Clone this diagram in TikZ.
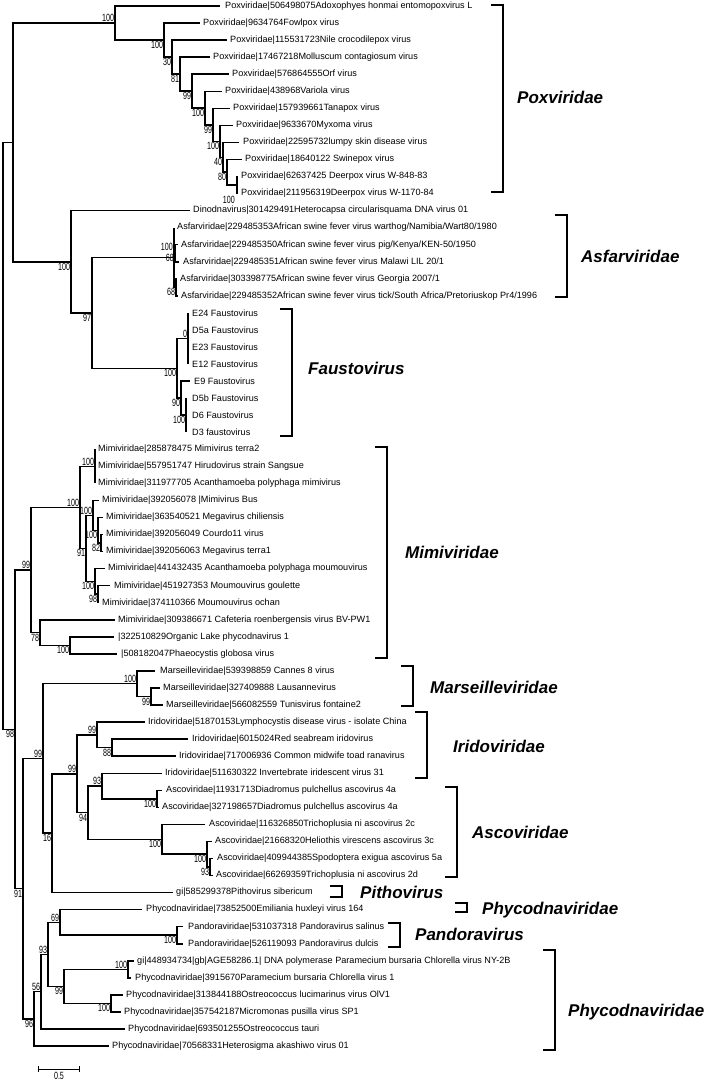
\documentclass[tikz,border=0pt]{standalone}
\usepackage{fontspec}
\setmainfont{Liberation Sans}
\newfontfamily\bsfont[FakeStretch=0.68]{Liberation Sans}
\usetikzlibrary{calc}
\tikzset{
  tree/.style={line width=1.5pt},
  brk/.style={line width=1.5pt},
  leaflab/.style={anchor=west, inner sep=0pt, font=\fontsize{9.1}{10}\selectfont},
  bs/.style={inner sep=0pt, font=\bsfont\fontsize{10.5}{10.5}\selectfont},
  clab/.style={anchor=west, inner sep=0pt, font=\fontsize{17}{18}\selectfont\bfseries\itshape},
}
\newcommand\leaf[5]{\coordinate (#1) at (#3,{6+17.05*(#2-1)});
  \node[leaflab] (#1t) at (#4,{6+17.05*(#2-1)}) {#5};}
\newcommand\inode[4]{\path let \p1=($(#3)!.5!(#4)$) in (#2pt,\y1) coordinate (#1);}
\newcommand\kids[2]{\foreach \c in {#2} {\draw[tree] (#1) |- (\c);}}
\newcommand\bb[2]{\node[bs,anchor=north east] (b#1) at ($(#1)+(-0.8,1)$) {#2};}
\newcommand\ba[2]{\node[bs,anchor=south east] (b#1) at ($(#1)+(-0.8,-1)$) {#2};}
\newcommand\brk[4]{\coordinate (#1t) at (#2-12,#3); \coordinate (#1b) at (#2-12,#4);
  \draw[brk] (#1t) -- ++(12,0) |- (#1b);}
\begin{document}
\begin{tikzpicture}[x=1pt,y=-1pt]
\useasboundingbox (0,0) rectangle (720,1082);
% ---------------- Poxviridae
\leaf{L1}{1}{220}{225}{Poxviridae|506498075Adoxophyes honmai entomopoxvirus L}
\leaf{L2}{2}{200}{203}{Poxviridae|9634764Fowlpox virus}
\leaf{L3}{3}{227}{230}{Poxviridae|115531723Nile crocodilepox virus}
\leaf{L4}{4}{210}{213}{Poxviridae|17467218Molluscum contagiosum virus}
\leaf{L5}{5}{229}{232}{Poxviridae|576864555Orf virus}
\leaf{L6}{6}{222}{225}{Poxviridae|438968Variola virus}
\leaf{L7}{7}{230}{233}{Poxviridae|157939661Tanapox virus}
\leaf{L8}{8}{233}{236}{Poxviridae|9633670Myxoma virus}
\leaf{L9}{9}{239}{243}{Poxviridae|22595732lumpy skin disease virus}
\leaf{L10}{10}{242}{245}{Poxviridae|18640122 Swinepox virus}
\leaf{L11}{11}{238}{241}{Poxviridae|62637425 Deerpox virus W-848-83}
\leaf{L12}{12}{238}{241}{Poxviridae|211956319Deerpox virus W-1170-84}
\inode{nK}{237}{L11}{L12}
\inode{nJ}{227}{L10}{nK}
\inode{nI}{223}{L9}{nJ}
\inode{nH}{220}{L8}{nI}
\inode{nG}{213}{L7}{nH}
\inode{nF}{205}{L6}{nG}
\inode{nE}{192}{L5}{nF}
\inode{nD}{180}{L4}{nE}
\inode{nC}{172}{L3}{nD}
\inode{nB}{164}{L2}{nC}
\inode{nA}{115}{L1}{nB}
\kids{nK}{L11,L12}\kids{nJ}{L10,nK}\kids{nI}{L9,nJ}\kids{nH}{L8,nI}
\kids{nG}{L7,nH}\kids{nF}{L6,nG}\kids{nE}{L5,nF}\kids{nD}{L4,nE}
\kids{nC}{L3,nD}\kids{nB}{L2,nC}\kids{nA}{L1,nB}
\ba{nA}{100}\bb{nB}{100}\bb{nC}{30}\bb{nD}{81}\bb{nE}{99}\bb{nF}{100}
\bb{nG}{99}\bb{nH}{100}\bb{nI}{40}\bb{nJ}{80}
\node[bs,anchor=north east] (bnK) at ($(nK)+(-2,11)$) {100};
% ---------------- Dinodnavirus / Asfarviridae / Faustovirus
\leaf{L13}{13}{190}{193}{Dinodnavirus|301429491Heterocapsa circularisquama DNA virus 01}
\leaf{L14}{14}{174}{177}{Asfarviridae|229485353African swine fever virus warthog/Namibia/Wart80/1980}
\leaf{L15}{15}{178}{181}{Asfarviridae|229485350African swine fever virus pig/Kenya/KEN-50/1950}
\leaf{L16}{16}{179}{183}{Asfarviridae|229485351African swine fever virus Malawi LIL 20/1}
\leaf{L17}{17}{177}{180}{Asfarviridae|303398775African swine fever virus Georgia 2007/1}
\leaf{L18}{18}{178}{181}{Asfarviridae|229485352African swine fever virus tick/South Africa/Pretoriuskop Pr4/1996}
\inode{nAx}{175.5}{L15}{L16}
\inode{nA3}{176}{L17}{L18}
\inode{nASF}{174}{L14}{nA3}
\kids{nAx}{L15,L16}\kids{nA3}{L17,L18}\kids{nASF}{L14,nAx,nA3}
\leaf{L19}{19}{188}{192}{E24 Faustovirus}
\leaf{L20}{20}{188}{192}{D5a Faustovirus}
\leaf{L21}{21}{188}{192}{E23 Faustovirus}
\leaf{L22}{22}{188}{192}{E12 Faustovirus}
\leaf{L23}{23}{190}{194}{E9 Faustovirus}
\leaf{L24}{24}{186}{192}{D5b Faustovirus}
\leaf{L25}{25}{186}{192}{D6 Faustovirus}
\leaf{L26}{26}{186}{192}{D3 faustovirus}
\inode{nF1}{188}{L19}{L22}
\inode{nF3}{186}{L24}{L26}
\inode{nF2}{181}{L23}{nF3}
\inode{nFAU}{177}{nF1}{nF2}
\inode{nAF}{92}{nASF}{nFAU}
\inode{nDAF}{71}{L13}{nAF}
\inode{nX}{13}{nA}{nDAF}
\kids{nF1}{L19,L20,L21,L22}\kids{nF3}{L24,L25,L26}\kids{nF2}{L23,nF3}
\kids{nFAU}{nF1,nF2}\kids{nAF}{nASF,nFAU}\kids{nDAF}{L13,nAF}\kids{nX}{nA,nDAF}
\node[bs,anchor=south east] (bnASF) at (173,251) {100};
\node[bs,anchor=north east] (bnAx) at (174,254) {68};
\bb{nA3}{68}
\ba{nF1}{0}\bb{nF2}{90}\bb{nF3}{100}\bb{nFAU}{100}\bb{nAF}{97}\bb{nDAF}{100}
% ---------------- Mimiviridae
\leaf{L27}{27}{95}{98}{Mimiviridae|285878475 Mimivirus terra2}
\leaf{L28}{28}{95}{98}{Mimiviridae|557951747 Hirudovirus strain Sangsue}
\leaf{L29}{29}{95}{98}{Mimiviridae|311977705 Acanthamoeba polyphaga mimivirus}
\leaf{L30}{30}{99}{102}{Mimiviridae|392056078 |Mimivirus Bus}
\leaf{L31}{31}{103}{106}{Mimiviridae|363540521 Megavirus chiliensis}
\leaf{L32}{32}{103}{106}{Mimiviridae|392056049 Courdo11 virus}
\leaf{L33}{33}{103}{106}{Mimiviridae|392056063 Megavirus terra1}
\leaf{L34}{34}{105}{108}{Mimiviridae|441432435 Acanthamoeba polyphaga moumouvirus}
\leaf{L35}{35}{110}{114}{Mimiviridae|451927353 Moumouvirus goulette}
\leaf{L36}{36}{98}{102}{Mimiviridae|374110366 Moumouvirus ochan}
\leaf{L37}{37}{115}{118}{Mimiviridae|309386671 Cafeteria roenbergensis virus BV-PW1}
\leaf{L38}{38}{114}{118}{|322510829Organic Lake phycodnavirus 1}
\leaf{L39}{39}{117}{121}{|508182047Phaeocystis globosa virus}
\inode{nM4}{95}{L27}{L29}
\inode{nM9}{101}{L32}{L33}
\inode{nM8}{98}{L31}{nM9}
\inode{nM6}{93}{L30}{nM8}
\inode{nM10}{98}{L35}{L36}
\inode{nM7}{95}{L34}{nM10}
\inode{nM5}{86}{nM6}{nM7}
\inode{nM2}{80}{nM4}{nM5}
\inode{nM3b}{70}{L38}{L39}
\inode{nM3}{40}{L37}{nM3b}
\inode{nM1}{31}{nM2}{nM3}
\kids{nM4}{L27,L28,L29}\kids{nM9}{L32,L33}\kids{nM8}{L31,nM9}\kids{nM6}{L30,nM8}
\kids{nM10}{L35,L36}\kids{nM7}{L34,nM10}\kids{nM5}{nM6,nM7}\kids{nM2}{nM4,nM5}
\kids{nM3b}{L38,L39}\kids{nM3}{L37,nM3b}\kids{nM1}{nM2,nM3}
\ba{nM4}{100}\ba{nM2}{100}\ba{nM6}{100}\bb{nM8}{100}\bb{nM9}{82}\bb{nM5}{91}
\bb{nM7}{100}\bb{nM10}{98}\bb{nM3b}{100}\bb{nM3}{78}\ba{nM1}{99}
% ---------------- Marseilleviridae
\leaf{L40}{40}{155}{160}{Marseilleviridae|539398859 Cannes 8 virus}
\leaf{L41}{41}{160}{163}{Marseilleviridae|327409888 Lausannevirus}
\leaf{L42}{42}{163}{166}{Marseilleviridae|566082559 Tunisvirus fontaine2}
\inode{nMN}{151}{L41}{L42}
\inode{nMAR}{137}{L40}{nMN}
\kids{nMN}{L41,L42}\kids{nMAR}{L40,nMN}
\ba{nMAR}{100}\bb{nMN}{99}
% ---------------- Iridoviridae / Ascoviridae / Pithovirus
\leaf{L43}{43}{145}{148}{Iridoviridae|51870153Lymphocystis disease virus - isolate China}
\leaf{L44}{44}{188}{192}{Iridoviridae|6015024Red seabream iridovirus}
\leaf{L45}{45}{176}{179}{Iridoviridae|717006936 Common midwife toad ranavirus}
\leaf{L46}{46}{162}{165}{Iridoviridae|511630322 Invertebrate iridescent virus 31}
\leaf{L47}{47}{162}{166}{Ascoviridae|11931713Diadromus pulchellus ascovirus 4a}
\leaf{L48}{48}{159}{162}{Ascoviridae|327198657Diadromus pulchellus ascovirus 4a}
\leaf{L49}{49}{205}{209}{Ascoviridae|116326850Trichoplusia ni ascovirus 2c}
\leaf{L50}{50}{212}{215}{Ascoviridae|21668320Heliothis virescens ascovirus 3c}
\leaf{L51}{51}{213}{217}{Ascoviridae|409944385Spodoptera exigua ascovirus 5a}
\leaf{L52}{52}{213}{216}{Ascoviridae|66269359Trichoplusia ni ascovirus 2d}
\leaf{L53}{53}{173}{176}{gi|585299378Pithovirus sibericum}
\inode{nIR2}{112}{L44}{L45}
\inode{nIR1}{97}{L43}{nIR2}
\inode{nN100a}{157}{L47}{L48}
\inode{nN93}{102}{L46}{nN100a}
\inode{nN93b}{210}{L51}{L52}
\inode{nN100c}{207}{L50}{nN93b}
\inode{nN100b}{162}{L49}{nN100c}
\inode{nN94}{88}{nN93}{nN100b}
\inode{nIAs}{77}{nIR1}{nN94}
\inode{nP16}{52}{nIAs}{L53}
\inode{nMI}{43}{nMAR}{nP16}
\kids{nIR2}{L44,L45}\kids{nIR1}{L43,nIR2}\kids{nN100a}{L47,L48}\kids{nN93}{L46,nN100a}
\kids{nN93b}{L51,L52}\kids{nN100c}{L50,nN93b}\kids{nN100b}{L49,nN100c}
\kids{nN94}{nN93,nN100b}\kids{nIAs}{nIR1,nN94}\kids{nP16}{nIAs,L53}\kids{nMI}{nMAR,nP16}
\ba{nIR1}{99}\bb{nIR2}{88}\ba{nN93}{93}\bb{nN100a}{100}\bb{nN100b}{100}
\bb{nN100c}{100}\bb{nN93b}{93}\bb{nN94}{94}\ba{nIAs}{99}\bb{nP16}{16}\ba{nMI}{99}
% ---------------- Phycodnaviridae / Pandoravirus
\leaf{L54}{54}{142}{146}{Phycodnaviridae|73852500Emiliania huxleyi virus 164}
\leaf{L55}{55}{183}{188}{Pandoraviridae|531037318 Pandoravirus salinus}
\leaf{L56}{56}{183}{188}{Pandoraviridae|526119093 Pandoravirus dulcis}
\leaf{L57}{57}{134}{137}{gi|448934734|gb|AGE58286.1| DNA polymerase Paramecium bursaria Chlorella virus NY-2B}
\leaf{L58}{58}{131}{135}{Phycodnaviridae|3915670Paramecium bursaria Chlorella virus 1}
\leaf{L59}{59}{123}{126}{Phycodnaviridae|313844188Ostreococcus lucimarinus virus OlV1}
\leaf{L60}{60}{121}{124}{Phycodnaviridae|357542187Micromonas pusilla virus SP1}
\leaf{L61}{61}{125}{128}{Phycodnaviridae|693501255Ostreococcus tauri}
\leaf{L62}{62}{109}{112}{Phycodnaviridae|70568331Heterosigma akashiwo virus 01}
\inode{nP100p}{177}{L55}{L56}
\inode{nP69}{60}{L54}{nP100p}
\inode{nP100q}{128}{L57}{L58}
\inode{nP100r}{111}{L59}{L60}
\inode{nP99}{64}{nP100q}{nP100r}
\inode{nP93}{48}{nP69}{nP99}
\inode{nP56}{41}{nP93}{L61}
\inode{nPP}{34}{nP56}{L62}
\inode{nZ}{23}{nMI}{nPP}
\inode{nY}{15}{nM1}{nZ}
\inode{nR}{3}{nX}{nY}
\kids{nP100p}{L55,L56}\kids{nP69}{L54,nP100p}\kids{nP100q}{L57,L58}\kids{nP100r}{L59,L60}
\kids{nP99}{nP100q,nP100r}\kids{nP93}{nP69,nP99}\kids{nP56}{nP93,L61}\kids{nPP}{nP56,L62}
\kids{nZ}{nMI,nPP}\kids{nY}{nM1,nZ}\kids{nR}{nX,nY}
\bb{nP100p}{100}\ba{nP69}{69}\ba{nP100q}{100}\bb{nP100r}{100}\bb{nP99}{99}
\ba{nP93}{93}\ba{nP56}{56}\bb{nPP}{96}\bb{nZ}{91}\bb{nY}{98}
% ---------------- clade brackets and names
\brk{kPox}{503}{5}{192}
\brk{kAsf}{567}{215}{297}
\brk{kFau}{292}{309}{436}
\brk{kMim}{387}{447}{658}
\brk{kMar}{413}{666}{706}
\brk{kIri}{427}{712}{778}
\brk{kAsc}{457}{787}{877}
\brk{kPit}{342}{886}{897}
\brk{kPh1}{467}{903}{912}
\brk{kPan}{400}{923}{947}
\brk{kPh2}{555}{950}{1050}
\node[clab] (cPox) at (517,97) {Poxviridae};
\node[clab] (cAsf) at (581,256) {Asfarviridae};
\node[clab] (cFau) at (308,368) {Faustovirus};
\node[clab] (cMim) at (405,552) {Mimiviridae};
\node[clab] (cMar) at (430,687) {Marseilleviridae};
\node[clab] (cIri) at (453,746) {Iridoviridae};
\node[clab] (cAsc) at (472,832) {Ascoviridae};
\node[clab] (cPit) at (360,892) {Pithovirus};
\node[clab] (cPh1) at (482,910) {Phycodnaviridae};
\node[clab] (cPan) at (415,934) {Pandoravirus};
\node[clab] (cPh2) at (568,1012) {Phycodnaviridae};
% ---------------- scale bar
\coordinate (sb1) at (38,1069); \coordinate (sb2) at (79,1069);
\draw[line width=1pt] (sb1) -- (sb2);
\draw[line width=1pt] ($(sb1)+(0,-3)$) -- ($(sb1)+(0,3)$);
\draw[line width=1pt] ($(sb2)+(0,-3)$) -- ($(sb2)+(0,3)$);
\node[bs] (sbl) at (59,1076) {0.5};
\end{tikzpicture}
\end{document}
